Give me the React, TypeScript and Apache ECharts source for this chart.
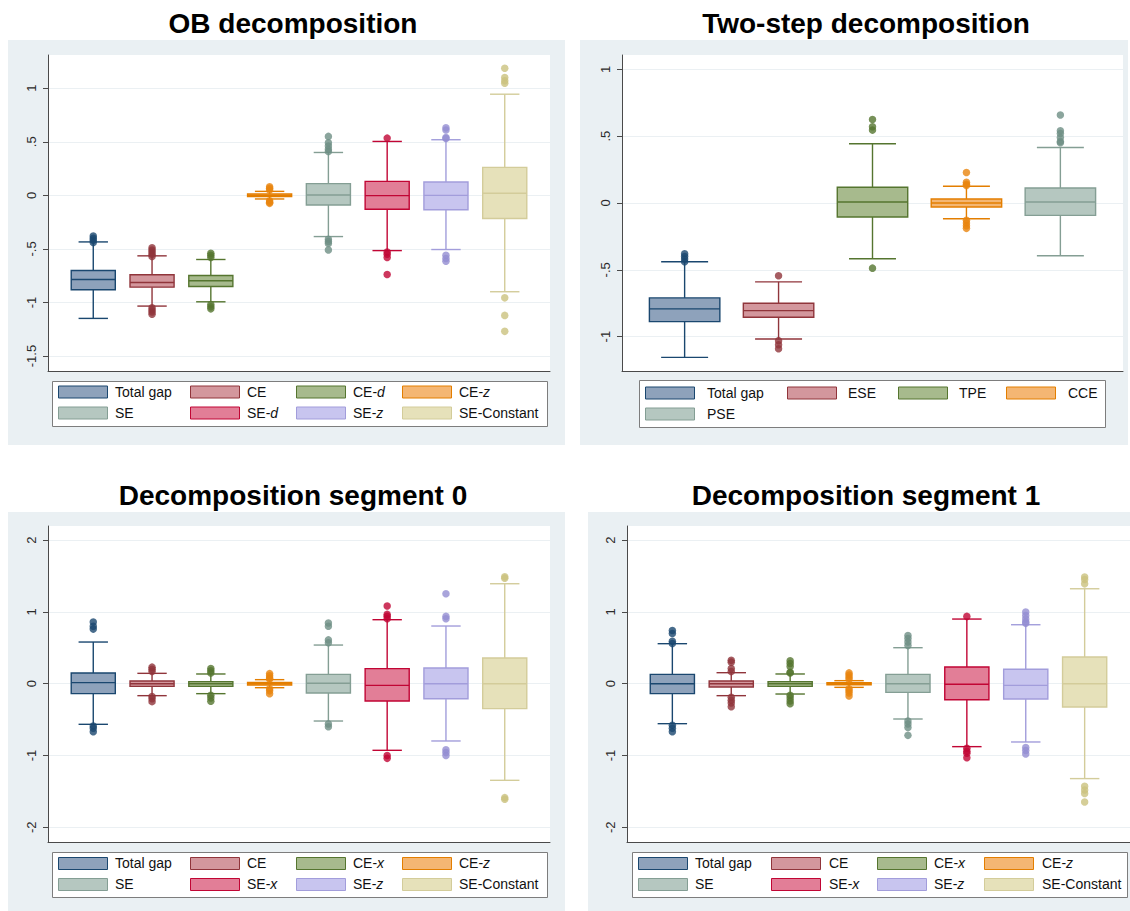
import React, { useEffect, useRef } from "react";
import * as echarts from "echarts";

const FONT = '"Liberation Sans", Arial, Helvetica, sans-serif';

// ---------------- Data ----------------
// Panel 1: OB decomposition
const obCategories = ["Total gap", "CE", "CE-d", "CE-z", "SE", "SE-d", "SE-z", "SE-Constant"];
const obLow = [-1.149, -1.034, -0.994, -0.034, -0.385, -0.516, -0.506, -0.9];
const obQ1 = [-0.882, -0.857, -0.851, -0.012, -0.09, -0.13, -0.134, -0.217];
const obMed = [-0.786, -0.814, -0.798, 0.0, 0.003, -0.003, 0.0, 0.019];
const obQ3 = [-0.702, -0.742, -0.748, 0.012, 0.109, 0.13, 0.124, 0.261];
const obHigh = [-0.435, -0.565, -0.599, 0.037, 0.4, 0.503, 0.519, 0.944];
const obOutliers = [
  [-0.38, -0.4, -0.42, -0.44],
  [-0.49, -0.51, -0.53, -0.55, -0.57, -1.05, -1.07, -1.09, -1.11],
  [-0.54, -0.56, -0.58, -1.02, -1.04, -1.06],
  [0.05, 0.065, 0.08, -0.05, -0.065, -0.075],
  [0.41, 0.43, 0.46, 0.49, 0.55, -0.41, -0.43, -0.45, -0.51],
  [0.534, -0.53, -0.55, -0.58, -0.739],
  [0.53, 0.54, 0.61, 0.63, -0.56, -0.59, -0.615],
  [1.186, 1.1, 1.07, 1.047, -0.957, -1.121, -1.27],
];
const obTicks = [-1.5, -1, -0.5, 0, 0.5, 1];

// Panel 2: Two-step decomposition
const twoCategories = ["Total gap", "ESE", "TPE", "CCE", "PSE"];
const twoLow = [-1.155, -1.0175, -0.4175, -0.1175, -0.395];
const twoQ1 = [-0.8875, -0.855, -0.105, -0.03, -0.0925];
const twoMed = [-0.7925, -0.805, 0.0075, 0.0, 0.0075];
const twoQ3 = [-0.71, -0.75, 0.1175, 0.03, 0.1125];
const twoHigh = [-0.44, -0.59, 0.4425, 0.125, 0.415];
const twoOutliers = [
  [-0.38, -0.4, -0.42, -0.44],
  [-0.545, -1.03, -1.06, -1.09],
  [0.625, 0.57, 0.545, -0.4875],
  [0.2275, 0.155, 0.14, 0.13, -0.13, -0.15, -0.17, -0.19],
  [0.6575, 0.54, 0.52, 0.49, 0.46, 0.45],
];
const twoTicks = [-1, -0.5, 0, 0.5, 1];

// Panels 3 & 4: Decomposition segment 0 / 1
const segCategories = ["Total gap", "CE", "CE-x", "CE-z", "SE", "SE-x", "SE-z", "SE-Constant"];
const seg0Low = [-0.566, -0.167, -0.139, -0.056, -0.52, -0.928, -0.798, -1.346];
const seg0Q1 = [-0.139, -0.037, -0.037, -0.018, -0.13, -0.241, -0.209, -0.348];
const seg0Med = [0.014, 0.0, 0.0, 0.0, 0.005, -0.023, 0.0, 0.0];
const seg0Q3 = [0.148, 0.037, 0.028, 0.018, 0.13, 0.209, 0.218, 0.357];
const seg0High = [0.58, 0.144, 0.135, 0.056, 0.538, 0.891, 0.803, 1.392];
const seg0Outliers = [
  [0.86, 0.8, 0.76, -0.59, -0.62, -0.67],
  [0.23, 0.2, 0.17, -0.18, -0.21, -0.25],
  [0.21, 0.18, 0.15, -0.16, -0.2, -0.245],
  [0.14, 0.11, 0.08, 0.065, -0.07, -0.1, -0.14],
  [0.845, 0.8, 0.61, 0.57, -0.56, -0.6],
  [1.081, 0.965, 0.94, 0.905, -1.0, -1.04],
  [1.253, 0.937, 0.905, -0.92, -0.96, -1.0],
  [1.47, 1.49, -1.587, -1.61],
];
const seg1Low = [-0.557, -0.167, -0.144, -0.051, -0.492, -0.877, -0.812, -1.322];
const seg1Q1 = [-0.139, -0.046, -0.037, -0.014, -0.121, -0.223, -0.213, -0.325];
const seg1Med = [0.0, 0.0, 0.0, 0.0, 0.0, -0.009, -0.023, 0.0];
const seg1Q3 = [0.13, 0.037, 0.028, 0.014, 0.13, 0.232, 0.2, 0.371];
const seg1High = [0.557, 0.153, 0.135, 0.042, 0.501, 0.9, 0.821, 1.322];
const seg1Outliers = [
  [0.74, 0.7, 0.59, 0.56, -0.58, -0.62, -0.67],
  [0.325, 0.3, 0.21, 0.17, -0.19, -0.23, -0.27, -0.32],
  [0.32, 0.28, 0.24, 0.16, 0.15, -0.16, -0.2, -0.24, -0.28],
  [0.15, 0.12, 0.09, 0.06, -0.07, -0.1, -0.13, -0.17],
  [0.67, 0.63, 0.58, 0.53, -0.52, -0.56, -0.61, -0.72],
  [0.937, -0.9, -0.94, -0.97, -1.03],
  [0.998, 0.95, 0.9, 0.86, 0.84, -0.89, -0.93, -0.98],
  [1.485, 1.45, 1.39, -1.43, -1.48, -1.53, -1.647],
];
const segTicks = [-2, -1, 0, 1, 2];

const titles = ["OB decomposition", "Two-step decomposition", "Decomposition segment 0", "Decomposition segment 1"];

// ---------------- Styles ----------------
const boxFills = ["#8ea2bb", "#d3979d", "#a7ba8d", "#f4b673", "#b5c7c0", "#e27e97", "#c8c5ef", "#e6e1ba"];
const boxStrokes = ["#1a476f", "#90353b", "#55752f", "#e37e00", "#849e94", "#c10534", "#a29ddb", "#d3cc9a"];
const outlierColors = ["#1a476f", "#90353b", "#55752f", "#e8850e", "#6e8e84", "#c10534", "#938dd2", "#cac27e"];
const PANEL_BG = "#eaf0f3";
const GRID_LINE = "#ebf0f3";
const AXIS = "#4a4a4a";

type Panel = {
  title: string;
  categories: string[];
  low: number[]; q1: number[]; med: number[]; q3: number[]; high: number[];
  outliers: number[][];
  ticks: number[];
  yMin: number; yMax: number; xMin: number; xMax: number;
  grid: { left: number; top: number; width: number; height: number };
  bg: { x: number; y: number; w: number; h: number };
  titleX: number; titleY: number;
  legend: { x: number; y: number; w: number; h: number; swatchX: number[]; textX: number[]; rowY: number[] };
};

const panels: Panel[] = [
  {
    title: titles[0], categories: obCategories,
    low: obLow, q1: obQ1, med: obMed, q3: obQ3, high: obHigh, outliers: obOutliers, ticks: obTicks,
    yMin: -1.64, yMax: 1.31, xMin: 0.23, xMax: 8.77,
    grid: { left: 48, top: 55, width: 502, height: 316 },
    bg: { x: 8, y: 40, w: 557, h: 405 },
    titleX: 293, titleY: 23,
    legend: { x: 52, y: 381, w: 495, h: 45, swatchX: [58, 190, 296, 402], textX: [115, 247, 353, 459], rowY: [391.5, 412.5] },
  },
  {
    title: titles[1], categories: twoCategories,
    low: twoLow, q1: twoQ1, med: twoMed, q3: twoQ3, high: twoHigh, outliers: twoOutliers, ticks: twoTicks,
    yMin: -1.257, yMax: 1.107, xMin: 1 / 3, xMax: 5 + 2 / 3,
    grid: { left: 622, top: 55, width: 501, height: 316 },
    bg: { x: 580, y: 40, w: 548, h: 405 },
    titleX: 866, titleY: 23,
    legend: { x: 639, y: 380, w: 466, h: 47, swatchX: [645, 787, 898, 1006], textX: [707, 848, 959, 1068], rowY: [392.5, 413.5] },
  },
  {
    title: titles[2], categories: segCategories,
    low: seg0Low, q1: seg0Q1, med: seg0Med, q3: seg0Q3, high: seg0High, outliers: seg0Outliers, ticks: segTicks,
    yMin: -2.205, yMax: 2.196, xMin: 0.23, xMax: 8.77,
    grid: { left: 48, top: 526, width: 502, height: 316 },
    bg: { x: 8, y: 512, w: 557, h: 399 },
    titleX: 293, titleY: 495,
    legend: { x: 52, y: 852, w: 495, h: 45, swatchX: [58, 190, 296, 402], textX: [115, 247, 353, 459], rowY: [863, 884] },
  },
  {
    title: titles[3], categories: segCategories,
    low: seg1Low, q1: seg1Q1, med: seg1Med, q3: seg1Q3, high: seg1High, outliers: seg1Outliers, ticks: segTicks,
    yMin: -2.205, yMax: 2.196, xMin: 0.23, xMax: 8.77,
    grid: { left: 627, top: 526, width: 503, height: 316 },
    bg: { x: 588, y: 512, w: 542, h: 399 },
    titleX: 866, titleY: 495,
    legend: { x: 632, y: 852, w: 495, h: 45, swatchX: [638, 771, 877, 984], textX: [695, 829, 934, 1042], rowY: [863, 884] },
  },
];

const fmt = (v: number) => {
  const s = String(Math.round(v * 100) / 100);
  return s.replace(/^(-?)0\./, "$1.");
};

const renderBox = (params: any, api: any) => {
  const i = params.dataIndex;
  const x = api.value(0);
  const pLo = api.coord([x, api.value(1)]);
  const pQ1 = api.coord([x, api.value(2)]);
  const pMd = api.coord([x, api.value(3)]);
  const pQ3 = api.coord([x, api.value(4)]);
  const pHi = api.coord([x, api.value(5)]);
  const unit = api.size([1, 0])[0];
  const bw = unit * 0.75;
  const cw = unit * 0.5;
  const cx = pLo[0];
  const stroke = boxStrokes[i];
  const ls = { stroke, lineWidth: 1.4 };
  return {
    type: "group",
    children: [
      { type: "line", shape: { x1: cx, y1: pHi[1], x2: cx, y2: pQ3[1] }, style: ls },
      { type: "line", shape: { x1: cx, y1: pQ1[1], x2: cx, y2: pLo[1] }, style: ls },
      { type: "line", shape: { x1: cx - cw / 2, y1: pHi[1], x2: cx + cw / 2, y2: pHi[1] }, style: ls },
      { type: "line", shape: { x1: cx - cw / 2, y1: pLo[1], x2: cx + cw / 2, y2: pLo[1] }, style: ls },
      {
        type: "rect",
        shape: { x: cx - bw / 2, y: pQ3[1], width: bw, height: pQ1[1] - pQ3[1] },
        style: { fill: boxFills[i], stroke, lineWidth: 1.4 },
      },
      { type: "line", shape: { x1: cx - bw / 2, y1: pMd[1], x2: cx + bw / 2, y2: pMd[1] }, style: ls },
    ],
  };
};

const legendText = (label: string) => {
  const m = label.match(/^(.*-)([a-z])$/);
  if (m) return `{n|${m[1]}}{i|${m[2]}}`;
  return `{n|${label}}`;
};

function buildOption() {
  const graphics: any[] = [];
  panels.forEach((p) => {
    graphics.push({
      type: "rect", z: -5, silent: true,
      shape: { x: p.bg.x, y: p.bg.y, width: p.bg.w, height: p.bg.h },
      style: { fill: PANEL_BG },
    });
    graphics.push({
      type: "text", x: p.titleX, y: p.titleY,
      style: {
        text: p.title, fontSize: 28, fontWeight: "bold", fontFamily: FONT,
        fill: "#000", align: "center", verticalAlign: "middle",
      },
    });
    const L = p.legend;
    graphics.push({
      type: "rect",
      shape: { x: L.x + 0.5, y: L.y + 0.5, width: L.w, height: L.h },
      style: { fill: "#fff", stroke: "#7d7d7d", lineWidth: 1 },
    });
    p.categories.forEach((c, i) => {
      const col = i % 4;
      const row = Math.floor(i / 4);
      const cy = L.rowY[row];
      graphics.push({
        type: "rect",
        shape: { x: L.swatchX[col] + 0.5, y: cy - 6 + 0.5, width: 49, height: 12 },
        style: { fill: boxFills[i], stroke: boxStrokes[i], lineWidth: 1 },
      });
      graphics.push({
        type: "text", x: L.textX[col], y: cy,
        style: {
          text: legendText(c),
          fontSize: 14, fontFamily: FONT, fill: "#111",
          align: "left", verticalAlign: "middle",
          rich: {
            n: { fontSize: 14, fontFamily: FONT, fill: "#111" },
            i: { fontSize: 14, fontFamily: FONT, fill: "#111", fontStyle: "italic" },
          },
        },
      });
    });
  });

  const series: any[] = [];
  panels.forEach((p, k) => {
    series.push({
      type: "custom",
      name: p.title,
      xAxisIndex: k, yAxisIndex: k,
      renderItem: renderBox,
      encode: { x: 0, y: [1, 2, 3, 4, 5] },
      data: p.categories.map((_, i) => [i + 1, p.low[i], p.q1[i], p.med[i], p.q3[i], p.high[i]]),
      z: 2,
    });
    const pts: any[] = [];
    p.outliers.forEach((arr, i) => {
      arr.forEach((v) => pts.push({ value: [i + 1, v], itemStyle: { color: outlierColors[i] } }));
    });
    series.push({
      type: "scatter",
      name: p.title + " outliers",
      xAxisIndex: k, yAxisIndex: k,
      symbol: "circle", symbolSize: 7.5,
      data: pts,
      z: 3,
    });
  });

  return {
    animation: false,
    backgroundColor: "#ffffff",
    textStyle: { fontFamily: FONT },
    graphic: { elements: graphics },
    grid: panels.map((p) => ({
      left: p.grid.left, top: p.grid.top, width: p.grid.width, height: p.grid.height,
      show: true, backgroundColor: "#ffffff", borderWidth: 0,
    })),
    xAxis: panels.map((p, k) => ({
      gridIndex: k, type: "value", min: p.xMin, max: p.xMax, position: "bottom",
      axisLine: { show: true, onZero: false, lineStyle: { color: AXIS, width: 1 } },
      axisTick: { show: false }, axisLabel: { show: false }, splitLine: { show: false },
    })),
    yAxis: panels.map((p, k) => ({
      gridIndex: k, type: "value", min: p.yMin, max: p.yMax, position: "left",
      axisLine: { show: true, onZero: false, lineStyle: { color: AXIS, width: 1 } },
      axisTick: { show: true, length: 5, customValues: p.ticks, lineStyle: { color: AXIS } },
      axisLabel: {
        show: true, customValues: p.ticks, rotate: 90, margin: 10,
        fontSize: 13, fontFamily: FONT, color: "#2a2a2a", formatter: fmt,
      },
      splitLine: { show: true, lineStyle: { color: GRID_LINE, width: 1 } },
    })),
    series,
  };
}

export default function App() {
  const ref = useRef<HTMLDivElement>(null);
  useEffect(() => {
    if (!ref.current) return;
    const chart = echarts.init(ref.current, undefined, { renderer: "svg" });
    chart.setOption(buildOption() as any);
    return () => chart.dispose();
  }, []);
  return (
    <div
      ref={ref}
      style={{ position: "absolute", left: 0, top: 0, width: 1130, height: 911, background: "#fff" }}
    />
  );
}
